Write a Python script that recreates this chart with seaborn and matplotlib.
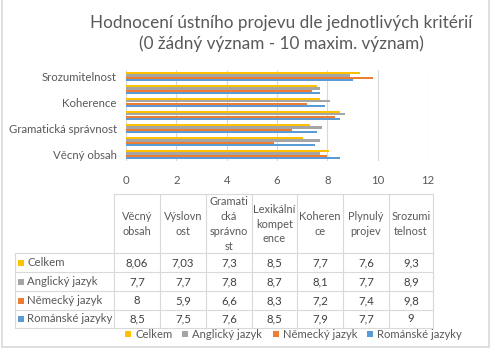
import numpy as np
import pandas as pd
import matplotlib
matplotlib.use("Agg")
import matplotlib.pyplot as plt
import seaborn as sns
from matplotlib.patches import Rectangle

categories = ["Věcný obsah", "Výslovnost", "Gramatická správnost", "Lexikální kompetence",
              "Koherence", "Plynulý projev", "Srozumitelnost"]
header_labels = ["Věcný\nobsah", "Výslovn\nost", "Gramati\ncká\nsprávno\nst", "Lexikální\nkompet\nence",
                 "Koheren\nce", "Plynulý\nprojev", "Srozumi\ntelnost"]
series_names = ["Celkem", "Anglický jazyk", "Německý jazyk", "Románské jazyky"]
celkem = [8.06, 7.03, 7.3, 8.5, 7.7, 7.6, 9.3]
anglicky = [7.7, 7.7, 7.8, 8.7, 8.1, 7.7, 8.9]
nemecky = [8, 5.9, 6.6, 8.3, 7.2, 7.4, 9.8]
romanske = [8.5, 7.5, 7.6, 8.5, 7.9, 7.7, 9]
colors = ["#FFC000", "#A5A5A5", "#ED7D31", "#5B9BD5"]
x_ticks = [0, 2, 4, 6, 8, 10, 12]
title = "Hodnocení ústního projevu dle jednotlivých kritérií\n(0 žádný význam - 10 maxim. význam)"

series_values = [celkem, anglicky, nemecky, romanske]

sns.set_theme(style="white")
plt.rcParams["font.family"] = ["Lato", "DejaVu Sans"]

rows = []
for name, vals in zip(series_names, series_values):
    for c, v in zip(categories, vals):
        rows.append({"kategorie": c, "hodnota": v, "serie": name})
df = pd.DataFrame(rows)

W, H = 490, 350
fig = plt.figure(figsize=(W / 100, H / 100), dpi=100)
fig.patch.set_facecolor("white")

def fx(px):
    return px / W

def fy(py):
    return 1 - py / H

ax = fig.add_axes([fx(126), fy(161), fx(428) - fx(126), fy(70) - fy(161)])
order = categories[::-1]
sns.barplot(data=df, y="kategorie", x="hodnota", hue="serie", order=order,
            hue_order=series_names, palette=colors, width=0.7, orient="h",
            saturation=1, linewidth=0, legend=False, ax=ax)
ax.set_xlim(0, 12)
ax.set_xticks(x_ticks)
ax.set_xticklabels([str(t) for t in x_ticks])
ax.set_yticks(range(len(order)))
ax.set_yticklabels([c if i % 2 == 0 else "" for i, c in enumerate(order)])
ax.set_xlabel("")
ax.set_ylabel("")
for s in ax.spines.values():
    s.set_visible(False)
ax.grid(axis="x", color="#D9D9D9", linewidth=0.8)
ax.set_axisbelow(True)
ax.tick_params(axis="x", length=0, pad=10, labelsize=8.2, labelcolor="#595959")
ax.tick_params(axis="y", length=0, pad=6.5, labelsize=8.2, labelcolor="#595959")

# overlay for title, table and legend
ov = fig.add_axes([0, 0, 1, 1])
ov.set_xlim(0, W)
ov.set_ylim(H, 0)
ov.axis("off")
ov.patch.set_alpha(0)

ov.add_patch(Rectangle((1.5, -2), W - 3, H - 1.5, fill=False, edgecolor="#D9D9D9", linewidth=1.2))

ov.text(281, 33.5, title, ha="center", va="center", fontsize=12.3, color="#595959",
        linespacing=1.3)

line_c = "#D9D9D9"
col_x = [114, 160, 206, 252, 297, 343, 389, 433]
hdr_top, hdr_bot = 194, 253
row_y = [253, 272, 291, 310, 328]
tbl_left = 15

# vertical lines
for x in col_x:
    ov.plot([x, x], [hdr_top, row_y[-1]], color=line_c, lw=0.8)
ov.plot([tbl_left, tbl_left], [row_y[0], row_y[-1]], color=line_c, lw=0.8)
# horizontal lines
ov.plot([col_x[0], col_x[-1]], [hdr_top, hdr_top], color=line_c, lw=0.8)
for y in row_y:
    ov.plot([tbl_left, col_x[-1]], [y, y], color=line_c, lw=0.8)

# header text
for i, lab in enumerate(header_labels):
    cx = (col_x[i] + col_x[i + 1]) / 2
    ov.text(cx, (hdr_top + hdr_bot) / 2 + 0.5, lab, ha="center", va="center",
            fontsize=7.9, color="#595959", linespacing=1.42)

def fmt(v):
    return f"{v:g}".replace(".", ",")

for r, (name, vals, col) in enumerate(zip(series_names, series_values, colors)):
    cy = (row_y[r] + row_y[r + 1]) / 2
    ov.add_patch(Rectangle((17.5, cy - 3), 6, 6, color=col, lw=0))
    ov.text(27, cy, name, ha="left", va="center", fontsize=8.2, color="#595959")
    for i, v in enumerate(vals):
        cx = (col_x[i] + col_x[i + 1]) / 2
        ov.text(cx, cy, fmt(v), ha="center", va="center", fontsize=8.2, color="#404040")

# legend
leg_x = [128, 185, 276, 370]
leg_y = 334
for name, col, lx in zip(series_names, colors, leg_x):
    ov.add_patch(Rectangle((lx - 3, leg_y - 3), 6, 6, color=col, lw=0))
    ov.text(lx + 7, leg_y, name, ha="left", va="center", fontsize=8.1, color="#595959")

fig.savefig("out.png", dpi=100, facecolor="white")
